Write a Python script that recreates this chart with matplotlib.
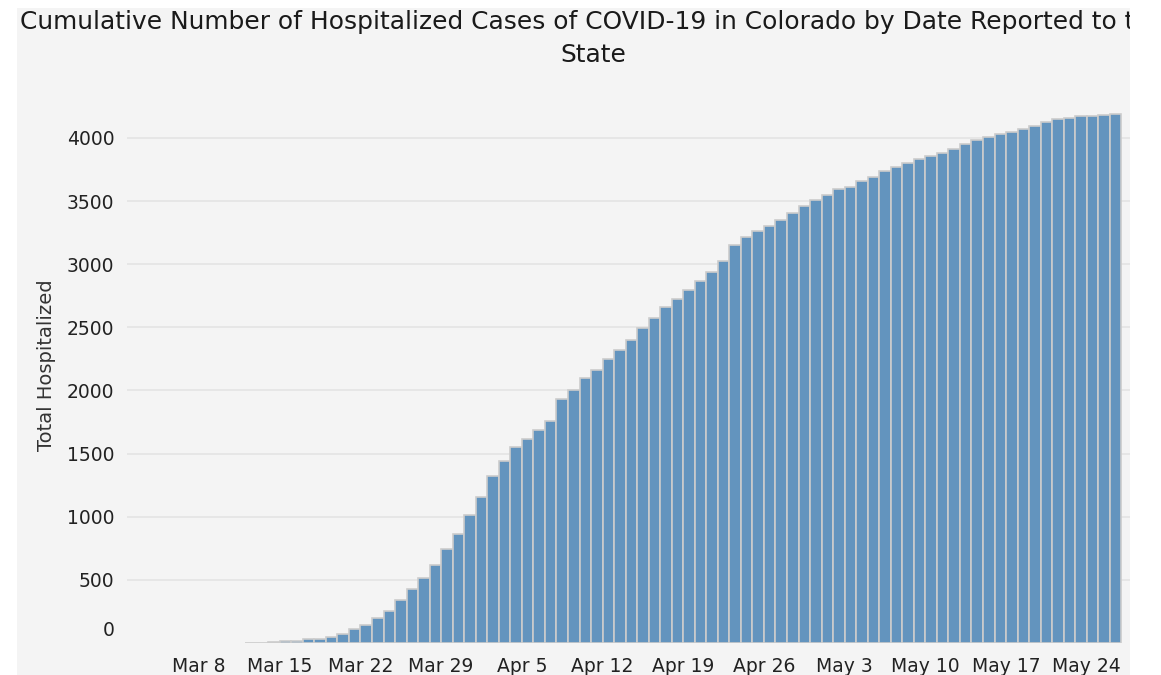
import numpy as np
import pandas as pd
import matplotlib
matplotlib.use("Agg")
import matplotlib.pyplot as plt
import matplotlib.dates as mdates
import matplotlib.transforms as mtransforms
from matplotlib.patches import Rectangle

# Cumulative hospitalized cases, one value per reported day (Mar 12 .. May 26)
first_day = "2020-03-12"
hospitalized = [
    2, 3, 5, 15, 17, 28, 30, 51, 75, 109,            # Mar 12 - Mar 21
    141, 196, 251, 341, 428, 517, 614, 747, 867, 1011,  # Mar 22 - Mar 31
    1157, 1321, 1442, 1552, 1616, 1685, 1760, 1930, 2007, 2097,  # Apr 1 - Apr 10
    2166, 2253, 2319, 2399, 2497, 2576, 2663, 2721, 2798, 2867,  # Apr 11 - Apr 20
    2935, 3023, 3149, 3215, 3261, 3306, 3349, 3404, 3460, 3506,  # Apr 21 - Apr 30
    3548, 3593, 3614, 3660, 3694, 3739, 3771, 3805, 3837, 3861,  # May 1 - May 10
    3883, 3915, 3949, 3984, 4005, 4029, 4050, 4072, 4096, 4128,  # May 11 - May 20
    4148, 4159, 4172, 4172, 4183, 4194,                          # May 21 - May 26
]
dates = pd.date_range(first_day, periods=len(hospitalized), freq="D")

tick_dates = pd.date_range("2020-03-08", "2020-05-24", freq="7D")
tick_labels = ["Mar 8", "Mar 15", "Mar 22", "Mar 29", "Apr 5", "Apr 12",
               "Apr 19", "Apr 26", "May 3", "May 10", "May 17", "May 24"]
y_ticks = [0, 500, 1000, 1500, 2000, 2500, 3000, 3500, 4000]

title = ("Cumulative Number of Hospitalized Cases of COVID-19 in Colorado by Date Reported to the\n"
         "State")

W, H = 1161, 675
fig = plt.figure(figsize=(W / 100, H / 100), dpi=100, facecolor="white")

# grey panel behind everything
fig.add_artist(Rectangle((17 / W, 0), (1130 - 17) / W, 1 - 8 / H,
                         transform=fig.transFigure, facecolor="#f4f4f4",
                         edgecolor="none", zorder=-5))

ax = fig.add_axes([127 / W, 1 - 643 / H, (1130 - 127) / W, (643 - 87.5) / H])
ax.patch.set_visible(False)

ax.bar(mdates.date2num(dates), hospitalized, width=1.0, align="edge",
       color="#6394be", edgecolor="#cccccc", linewidth=1.2, zorder=2)

ax.set_xlim(mdates.date2num(pd.Timestamp("2020-03-01 18:00")),
            mdates.date2num(pd.Timestamp("2020-05-27 18:00")))
ax.set_ylim(0, 4400)

ax.set_xticks(mdates.date2num(tick_dates))
ax.set_xticklabels(tick_labels)
ax.set_yticks(y_ticks)
ax.set_yticklabels([str(v) for v in y_ticks])

ax.tick_params(axis="both", length=0, labelsize=13.5, labelcolor="#222222")
ax.tick_params(axis="y", pad=9)
ax.tick_params(axis="x", pad=10)

ax.grid(axis="y", color="#e4e4e4", linewidth=1.2, zorder=0)
ax.set_axisbelow(True)
ax.yaxis.get_gridlines()[0].set_visible(False)
for s in ax.spines.values():
    s.set_visible(False)

# the "0" label sits a bit above its gridline in the original
zero_lab = ax.get_yticklabels()[0]
zero_lab.set_transform(zero_lab.get_transform() +
                       mtransforms.ScaledTranslation(0, 15 / 100, fig.dpi_scale_trans))

ax.set_ylabel("Total Hospitalized", fontsize=14, color="#333333", labelpad=8)

fig.text(593 / W, 1 - 10 / H, title, ha="center", va="top",
         fontsize=17.9, color="#1a1a1a", linespacing=1.45)

# white strip on the right clips the title like the original
fig.add_artist(Rectangle((1130 / W, 0), 1 - 1130 / W, 1,
                         transform=fig.transFigure, facecolor="white",
                         edgecolor="none", zorder=20))

fig.savefig("out.png", dpi=100, facecolor="white")
